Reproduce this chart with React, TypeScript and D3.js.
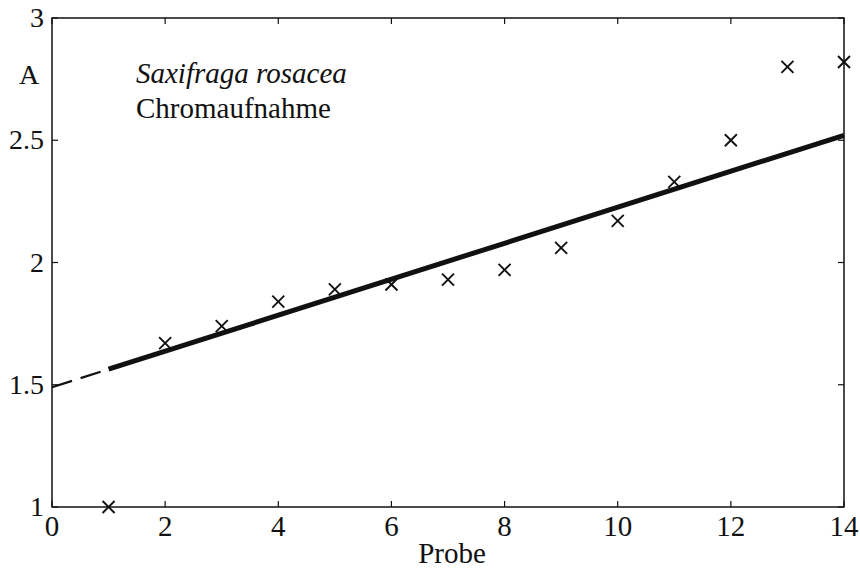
import React from "react";
import * as d3 from "d3";

// Sample number (Probe) and measured absorbance A
const probes = [1, 2, 3, 4, 5, 6, 7, 8, 9, 10, 11, 12, 13, 14];
const absorbance = [1.0, 1.67, 1.74, 1.84, 1.89, 1.91, 1.93, 1.97, 2.06, 2.17, 2.33, 2.5, 2.8, 2.82];

// Regression line: intercept and slope
const fitIntercept = 1.49;
const fitSlope = 0.0736;
const fitSolidStart = 1;

const xTicks = [0, 2, 4, 6, 8, 10, 12, 14];
const yTicks = [1, 1.5, 2, 2.5, 3];
const yTickLabels = ["1", "1.5", "2", "2.5", "3"];

const W = 860;
const H = 571;
const FONT = "'Liberation Serif', 'DejaVu Serif', serif";

export default function App() {
  const x = d3.scaleLinear().domain([0, 14]).range([52, 844]);
  const y = d3.scaleLinear().domain([1, 3]).range([507, 18]);
  const [x0, x1] = x.range();
  const [yB, yT] = y.range();
  const fit = (v: number) => fitIntercept + fitSlope * v;
  const line = d3
    .line<number>()
    .x((d) => x(d))
    .y((d) => y(fit(d)));
  const tick = 6;
  const m = 6;

  return (
    <svg
      width={W}
      height={H}
      style={{ position: "absolute", left: 0, top: 0, background: "#fff" }}
      fontFamily={FONT}
    >
      <rect x={0} y={0} width={W} height={H} fill="#fff" />
      {/* frame */}
      <rect x={x0} y={yT} width={x1 - x0} height={yB - yT} fill="none" stroke="#111" strokeWidth={1.5} />
      {/* ticks on all four sides, pointing inward */}
      {xTicks.map((t) => (
        <g key={"xt" + t} stroke="#111" strokeWidth={1.2}>
          <line x1={x(t)} x2={x(t)} y1={yB} y2={yB - tick} />
          <line x1={x(t)} x2={x(t)} y1={yT} y2={yT + tick} />
        </g>
      ))}
      {yTicks.map((t) => (
        <g key={"yt" + t} stroke="#111" strokeWidth={1.2}>
          <line x1={x0} x2={x0 + tick} y1={y(t)} y2={y(t)} />
          <line x1={x1} x2={x1 - tick} y1={y(t)} y2={y(t)} />
        </g>
      ))}
      {/* tick labels */}
      {xTicks.map((t) => (
        <text key={"xl" + t} x={x(t)} y={yB + 29} fontSize={29} textAnchor="middle" fill="#111">
          {t}
        </text>
      ))}
      {yTicks.map((t, i) => (
        <text key={"yl" + t} x={x0 - 8} y={y(t) + 9} fontSize={28} textAnchor="end" fill="#111">
          {yTickLabels[i]}
        </text>
      ))}
      <text x={29} y={84} fontSize={28} textAnchor="middle" fill="#111">
        A
      </text>
      <text x={(x0 + x1) / 2 + 4} y={563} fontSize={29} textAnchor="middle" fill="#111">
        Probe
      </text>
      {/* annotation */}
      <text x={136} y={83} fontSize={29} fontStyle="italic" fill="#111">
        Saxifraga rosacea
      </text>
      <text x={136} y={118} fontSize={29} fill="#111">
        Chromaufnahme
      </text>
      {/* regression line: dashed extrapolation, then solid */}
      <path
        d={line([0, fitSolidStart]) ?? ""}
        fill="none"
        stroke="#111"
        strokeWidth={2.2}
        strokeDasharray="21 9"
      />
      <path d={line([fitSolidStart, 14]) ?? ""} fill="none" stroke="#111" strokeWidth={5} />
      {/* measured points */}
      {probes.map((p, i) => (
        <g key={"p" + p} stroke="#111" strokeWidth={1.9}>
          <line x1={x(p) - m} x2={x(p) + m} y1={y(absorbance[i]) - m} y2={y(absorbance[i]) + m} />
          <line x1={x(p) - m} x2={x(p) + m} y1={y(absorbance[i]) + m} y2={y(absorbance[i]) - m} />
        </g>
      ))}
    </svg>
  );
}
